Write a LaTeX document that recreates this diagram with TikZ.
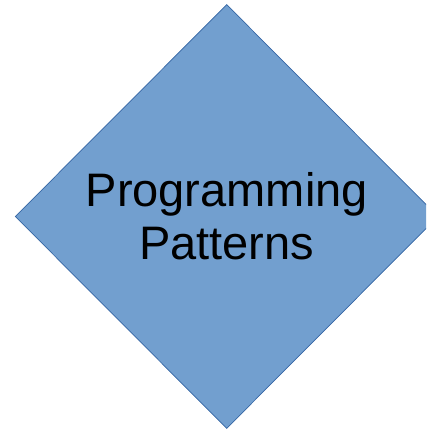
\documentclass[tikz,border=0pt]{standalone}
\usepackage{fontspec}
\setmainfont{Liberation Sans}
\definecolor{patternblue}{HTML}{729FCF}
\definecolor{patternedge}{HTML}{3465A4}
\usetikzlibrary{shapes.geometric}
\tikzset{topic/.style={diamond, draw=patternedge, fill=patternblue, line width=0.7pt,
    minimum width=423pt, minimum height=424pt, inner sep=0pt, align=center,
    font=\fontsize{47}{53}\selectfont}}

\begin{document}
\begin{tikzpicture}[x=1pt, y=-1pt]
  \useasboundingbox (0,0) rectangle (426,431);
  \clip (0,0) rectangle (426,431);

  % the one diamond, cut off on the right
  \node [topic] (patterns) at (226.7,216.5) {Programming\\Patterns};
\end{tikzpicture}
\end{document}
